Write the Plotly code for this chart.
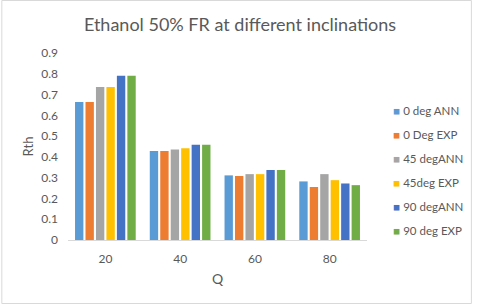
import plotly.graph_objects as go

categories = ["20", "40", "60", "80"]
series_names = ["0 deg ANN", "0 Deg EXP", "45 degANN", "45deg EXP", "90 degANN", "90 deg EXP"]
deg0_ann = [0.664, 0.428, 0.311, 0.282]
deg0_exp = [0.664, 0.428, 0.308, 0.255]
deg45_ann = [0.736, 0.436, 0.317, 0.317]
deg45_exp = [0.736, 0.442, 0.317, 0.288]
deg90_ann = [0.790, 0.458, 0.337, 0.272]
deg90_exp = [0.790, 0.458, 0.337, 0.264]
series_values = [deg0_ann, deg0_exp, deg45_ann, deg45_exp, deg90_ann, deg90_exp]
colors = ["#5B9BD5", "#ED7D31", "#A5A5A5", "#FFC000", "#4472C4", "#70AD47"]
y_ticks = [0, 0.1, 0.2, 0.3, 0.4, 0.5, 0.6, 0.7, 0.8, 0.9]

font_family = "Lato, Open Sans, sans-serif"
gray = "#595959"

fig = go.Figure()
for i, (name, vals) in enumerate(zip(series_names, series_values)):
    fig.add_trace(go.Bar(x=categories, y=vals, name=name, marker_color=colors[i],
                         marker_line_width=0, showlegend=False))
# legend entries: small coloured square glyph right before the label
for i, name in enumerate(series_names):
    fig.add_trace(go.Scatter(x=[None], y=[None], mode="markers",
                             name=f"<span style='color:{colors[i]}'>■</span> {name}",
                             marker=dict(symbol="square", size=1, color="rgba(0,0,0,0)"),
                             legendgroup=f"g{i}"))

fig.update_layout(
    width=480, height=304,
    margin=dict(l=68, r=107, t=53, b=64),
    paper_bgcolor="white", plot_bgcolor="white",
    barmode="group", bargap=0.16, bargroupgap=0.2,
    title=dict(text="Ethanol 50% FR at different inclinations", x=0.5, xanchor="center",
               y=1 - 25/304, yanchor="middle", font=dict(family=font_family, size=18, color=gray)),
    font=dict(family=font_family, size=12, color=gray),
    xaxis=dict(title=dict(text="Q", font=dict(size=14, color=gray), standoff=8),
               showline=True, linecolor="#D9D9D9", linewidth=1, ticks="",
               ticklabelstandoff=8,
               tickfont=dict(size=12, color=gray), showgrid=False),
    yaxis=dict(title=dict(text="Rth", font=dict(size=13, color=gray), standoff=4),
               range=[0, 0.9], tickvals=y_ticks, ticktext=[f"{v:g}" for v in y_ticks],
               showgrid=False, zeroline=False, showline=False, ticklabelstandoff=9,
               tickfont=dict(size=12, color=gray)),
    legend=dict(x=(359 - 68) / 305, xanchor="left", y=(240 - 170) / 187, yanchor="middle",
                bgcolor="rgba(0,0,0,0)",
                font=dict(size=11.5, color=gray), tracegroupgap=5, itemwidth=30),
    shapes=[dict(type="rect", xref="paper", yref="paper", x0=-67.5/305, x1=1+106.5/305,
                 y0=-63.5/187, y1=1+52.5/187, line=dict(color="#D9D9D9", width=1))],
)

fig.write_html("out.html", config={"displayModeBar": False},
               post_script="document.body.style.margin='0';document.body.style.overflow='hidden';")
